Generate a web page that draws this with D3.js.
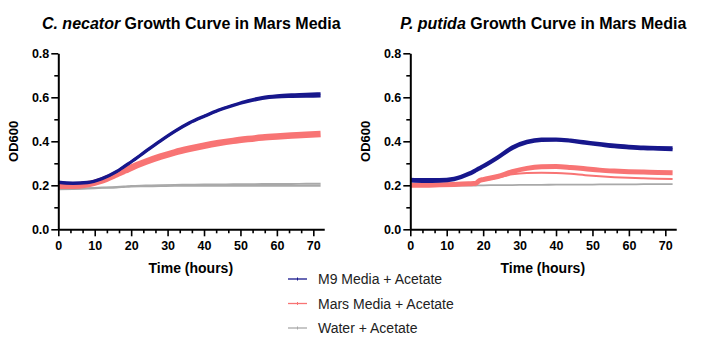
<!DOCTYPE html>
<html>
<head>
<meta charset="utf-8">
<script src="https://cdn.jsdelivr.net/npm/d3@7"></script>
<style>
  body { margin: 0; background: #fff; }
  svg { display: block; font-family: "Liberation Sans", Arial, sans-serif; }
</style>
</head>
<body>
<svg id="chart" width="704" height="349"></svg>
<script>
"use strict";

// time points (hours), shared by every series
const hours = [0, 4, 8, 12, 16, 18, 19, 20, 24, 28, 32, 36, 40, 44, 48, 52, 56, 60, 64, 68, 72];

// C. necator, OD600
const necatorM9A    = [0.215, 0.211, 0.214, 0.232, 0.264, 0.286, 0.297, 0.308, 0.356, 0.403, 0.447, 0.485, 0.515, 0.543, 0.565, 0.585, 0.600, 0.608, 0.612, 0.614, 0.617];
const necatorM9B    = [0.212, 0.208, 0.211, 0.229, 0.261, 0.283, 0.294, 0.305, 0.353, 0.400, 0.444, 0.482, 0.512, 0.540, 0.562, 0.580, 0.594, 0.601, 0.603, 0.604, 0.605];
const necatorMars   = [0.198, 0.198, 0.205, 0.222, 0.250, 0.265, 0.272, 0.280, 0.307, 0.330, 0.350, 0.366, 0.380, 0.392, 0.402, 0.410, 0.417, 0.422, 0.426, 0.430, 0.433];
const necatorWaterA = [0.183, 0.184, 0.187, 0.190, 0.193, 0.195, 0.196, 0.197, 0.199, 0.201, 0.202, 0.203, 0.204, 0.204, 0.205, 0.205, 0.206, 0.206, 0.206, 0.207, 0.207];
const necatorWaterB = [0.182, 0.183, 0.185, 0.188, 0.190, 0.192, 0.193, 0.194, 0.195, 0.196, 0.197, 0.197, 0.197, 0.197, 0.197, 0.197, 0.198, 0.198, 0.198, 0.198, 0.198];

// P. putida, OD600
const putidaM9A     = [0.228, 0.226, 0.226, 0.232, 0.255, 0.272, 0.281, 0.290, 0.330, 0.375, 0.400, 0.410, 0.411, 0.406, 0.398, 0.390, 0.383, 0.378, 0.374, 0.372, 0.371];
const putidaM9B     = [0.219, 0.217, 0.218, 0.225, 0.248, 0.265, 0.274, 0.283, 0.323, 0.367, 0.393, 0.404, 0.405, 0.400, 0.391, 0.383, 0.375, 0.370, 0.366, 0.364, 0.362];
const putidaMarsA   = [0.200, 0.200, 0.202, 0.204, 0.207, 0.209, 0.222, 0.226, 0.240, 0.262, 0.277, 0.284, 0.285, 0.281, 0.275, 0.269, 0.265, 0.262, 0.260, 0.258, 0.257];
const putidaMarsB   = [0.200, 0.200, 0.202, 0.204, 0.207, 0.209, 0.220, 0.222, 0.235, 0.250, 0.256, 0.257, 0.256, 0.252, 0.246, 0.241, 0.237, 0.234, 0.232, 0.230, 0.229];
const putidaWater   = [0.196, 0.196, 0.197, 0.198, 0.199, 0.199, 0.200, 0.200, 0.201, 0.201, 0.202, 0.202, 0.203, 0.203, 0.203, 0.204, 0.204, 0.204, 0.205, 0.205, 0.205];

const yMajorTicks = [0, 0.2, 0.4, 0.6, 0.8];
const yMinorTicks = [0.1, 0.3, 0.5, 0.7];
const xMajorTicks = [0, 10, 20, 30, 40, 50, 60, 70];

const legendLabels = ["M9 Media + Acetate", "Mars Media + Acetate", "Water + Acetate"];
const colors = ["#17178c", "#f87474", "#a9a9a9"];

const svg = d3.select("#chart");

const y = d3.scaleLinear().domain([0, 0.8]).range([229.3, 53.3]);

function drawPanel(left, italicPart, restPart, lines) {
  const x = d3.scaleLinear().domain([0, 73]).range([left, left + 73 * 3.643]);
  const g = svg.append("g");

  // title
  const t = g.append("text")
    .attr("x", left + 133).attr("y", 28.5)
    .attr("text-anchor", "middle")
    .attr("font-size", 16).attr("font-weight", "bold").attr("fill", "#000");
  t.append("tspan").attr("font-style", "italic").text(italicPart);
  t.append("tspan").text(" " + restPart);

  // curves
  const line = d3.line()
    .x((d, i) => x(hours[i]))
    .y(d => y(d))
    .curve(d3.curveMonotoneX);

  lines.forEach(l => {
    g.append("path")
      .attr("d", line(l.values))
      .attr("fill", "none")
      .attr("stroke", l.color)
      .attr("stroke-width", l.width)
      .attr("stroke-linecap", "butt");
  });

  // y axis
  const yAxis = g.append("g").attr("transform", `translate(${left},0)`);
  yAxis.call(d3.axisLeft(y).tickValues(yMajorTicks).tickFormat(d3.format(".1f"))
    .tickSize(7).tickSizeOuter(0).tickPadding(2));
  g.append("g").attr("transform", `translate(${left},0)`)
    .call(d3.axisLeft(y).tickValues(yMinorTicks).tickFormat("").tickSize(4).tickSizeOuter(0))
    .select(".domain").remove();

  // x axis
  const xAxis = g.append("g").attr("transform", `translate(0,${y(0)})`);
  xAxis.call(d3.axisBottom(x).tickValues(xMajorTicks).tickFormat(d3.format("d"))
    .tickSize(7).tickSizeOuter(0).tickPadding(5));
  const xMinor = d3.range(0, 73, 10 / 3).filter(v => Math.abs(v / 10 - Math.round(v / 10)) > 0.01);
  g.append("g").attr("transform", `translate(0,${y(0)})`)
    .call(d3.axisBottom(x).tickValues(xMinor).tickFormat("").tickSize(4).tickSizeOuter(0))
    .select(".domain").remove();

  g.selectAll(".domain").attr("stroke", "#000").attr("stroke-width", 2);
  g.selectAll(".tick line").attr("stroke", "#000").attr("stroke-width", 1.6);
  g.selectAll(".tick text")
    .attr("font-family", "'Liberation Sans', Arial, sans-serif")
    .attr("font-size", 12.5).attr("font-weight", "bold").attr("fill", "#000");

  // axis titles
  g.append("text")
    .attr("transform", `translate(${left - 40},${(y(0) + y(0.8)) / 2}) rotate(-90)`)
    .attr("text-anchor", "middle")
    .attr("font-size", 13).attr("font-weight", "bold").attr("fill", "#000")
    .text("OD600");
  g.append("text")
    .attr("x", left + 132.5).attr("y", 273)
    .attr("text-anchor", "middle")
    .attr("font-size", 14).attr("font-weight", "bold").attr("fill", "#000")
    .text("Time (hours)");
}

drawPanel(58.3, "C. necator", "Growth Curve in Mars Media", [
  { values: necatorWaterA, color: colors[2], width: 1.8 },
  { values: necatorWaterB, color: colors[2], width: 1.8 },
  { values: necatorMars, color: colors[1], width: 6.5 },
  { values: necatorM9A, color: colors[0], width: 2.8 },
  { values: necatorM9B, color: colors[0], width: 2.8 }
]);

drawPanel(410.3, "P. putida", "Growth Curve in Mars Media", [
  { values: putidaWater, color: colors[2], width: 1.8 },
  { values: putidaMarsB, color: colors[1], width: 2 },
  { values: putidaMarsA, color: colors[1], width: 5 },
  { values: putidaM9A, color: colors[0], width: 3 },
  { values: putidaM9B, color: colors[0], width: 3 }
]);

// legend
const legend = svg.append("g");
legendLabels.forEach((label, i) => {
  const ly = 279 + i * 24.5;
  legend.append("line")
    .attr("x1", 288).attr("x2", 307).attr("y1", ly).attr("y2", ly)
    .attr("stroke", colors[i]).attr("stroke-width", 1.3);
  legend.append("line")
    .attr("x1", 297.5).attr("x2", 297.5).attr("y1", ly - 1.5).attr("y2", ly + 1.5)
    .attr("stroke", colors[i]).attr("stroke-width", 1);
  legend.append("text")
    .attr("x", 318).attr("y", ly + 5)
    .attr("font-size", 14).attr("fill", "#222")
    .text(label);
});
</script>
</body>
</html>
